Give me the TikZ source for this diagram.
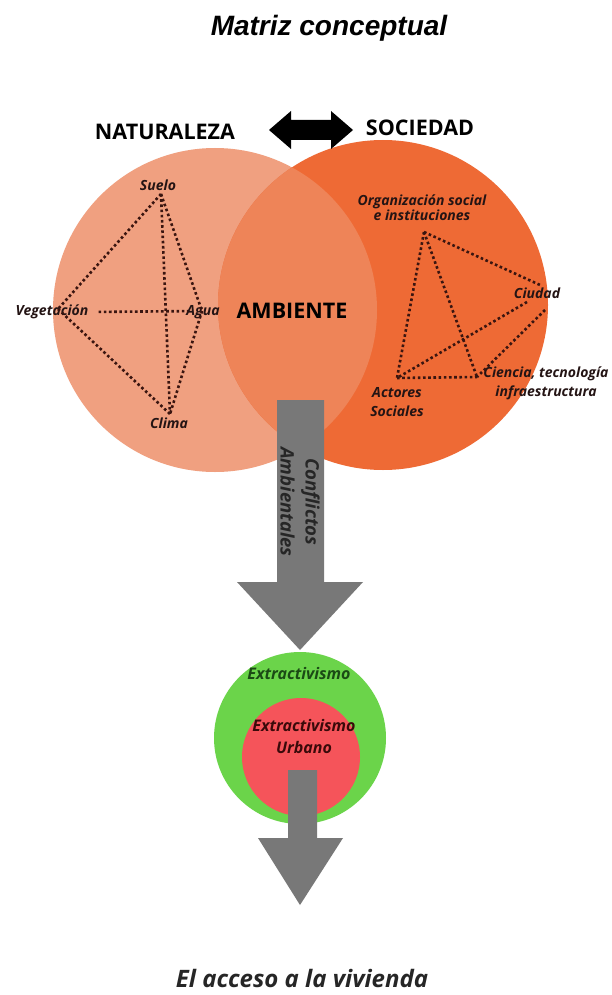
\documentclass[tikz,border=0pt]{standalone}
\usepackage{fontspec}
\setmainfont{Open Sans}
\newfontfamily\titlefont{Liberation Sans}
\definecolor{natcol}{HTML}{F0A080}
\definecolor{soccol}{HTML}{EE6A35}
\definecolor{ambcol}{HTML}{EE8458}
\definecolor{extcol}{HTML}{6BD44A}
\definecolor{urbcol}{HTML}{F5545A}
\definecolor{arrowgray}{HTML}{787878}
\definecolor{linkbrown}{HTML}{3A1510}
\definecolor{labeltext}{HTML}{241414}
\definecolor{extgreen}{HTML}{1B4A15}
\definecolor{urbtext}{HTML}{3A0A0A}
\begin{document}
\begin{tikzpicture}[x=1pt,y=-1pt,
    lbl/.style={font=\bfseries\itshape\fontsize{14}{19}\selectfont, text=labeltext, align=center, inner sep=0pt},
    big/.style={font=\bfseries\fontsize{21.5}{24}\selectfont, text=black, inner sep=0pt},
    link/.style={draw=linkbrown, line width=2.6pt, dash pattern=on 2.6pt off 2.6pt}]
  \useasboundingbox (0,0) rectangle (612,995);
  \fill[white] (0,0) rectangle (612,995);
  % the two circles and their overlap
  \def\natcircle{(215,310) circle (162pt)}
  \def\soccircle{(383,305) circle (165pt)}
  \fill[natcol] \natcircle;
  \fill[soccol] \soccircle;
  \begin{scope}
    \clip \natcircle;
    \fill[ambcol] \soccircle;
  \end{scope}
  \node[font=\titlefont\bfseries\itshape\fontsize{28}{32}\selectfont] (title) at (329,28) {Matriz conceptual};
  \node[big] (naturaleza) at (165,132) {NATURALEZA};
  \node[big] (sociedad) at (420,128) {SOCIEDAD};
  \node[big] (ambiente) at (292,311) {AMBIENTE};
  % double arrow
  \fill[black] (269,130) -- (291,111) -- (291,120) -- (331,120) -- (331,111) -- (353,130)
    -- (331,149) -- (331,140) -- (291,140) -- (291,149) -- cycle;
  % naturaleza
  \coordinate (s) at (161,194);
  \coordinate (v) at (58,309);
  \coordinate (a) at (202,311);
  \coordinate (c) at (170,414);
  \node[lbl] (suelo) at (158,185) {Suelo};
  \node[lbl] (veg) at (52,312) {Vegetación};
  \node[lbl] (agua) at (203,312) {Agua};
  \node[lbl] (clima) at (169,423) {Clima};
  \draw[link] (s) -- (v);
  \draw[link] (s) -- (a);
  \draw[link] (s) -- (c);
  \draw[link, shorten <=10pt, shorten >=14pt] (veg.east) -- (a);
  \draw[link] (v) -- (c);
  \draw[link] (a) -- (c);
  % sociedad
  \coordinate (o) at (424,232);
  \coordinate (ac) at (397,378);
  \coordinate (ce) at (477,377);
  \coordinate (ci1) at (540,285);
  \coordinate (ci2) at (527,302);
  \coordinate (ci3) at (545,310);
  \node[lbl, font=\bfseries\itshape\fontsize{14}{15}\selectfont] (org) at (422,208) {Organización social\\e instituciones};
  \node[lbl] (ciudad) at (537,293) {Ciudad};
  \node[lbl] (ciencia) at (546,383) {Ciencia, tecnología\\infraestructura};
  \node[lbl] (actores) at (397,402) {Actores\\Sociales};
  \draw[link] (o) -- (ac);
  \draw[link] (o) -- (ce);
  \draw[link] (o) -- (ci1);
  \draw[link] (ci2) -- (ac);
  \draw[link] (ci3) -- (ce);
  \draw[link] (ac) -- (ce);
  % first gray arrow
  \fill[arrowgray] (277,400) -- (324,400) -- (324,582) -- (363,582) -- (300,650)
    -- (237,582) -- (277,582) -- cycle;
  \node[font=\bfseries\itshape\fontsize{18.5}{25}\selectfont, rotate=-90, align=center, text=black!85] (conflictos) at (300,502) {Conflictos\\Ambientales};
  % extractivismo
  \fill[extcol] (300,738) circle (86pt);
  \fill[urbcol] (301,757) circle (59pt);
  \node[lbl, font=\bfseries\itshape\fontsize{16}{18}\selectfont, text=extgreen] (extr) at (299,673) {Extractivismo};
  \node[lbl, font=\bfseries\itshape\fontsize{16}{22}\selectfont, text=urbtext] (urbano) at (304,736) {Extractivismo\\Urbano};
  % second gray arrow
  \fill[arrowgray] (288,770) -- (317,770) -- (317,838) -- (343,838) -- (300,905)
    -- (258,838) -- (288,838) -- cycle;
  \node[font=\bfseries\itshape\fontsize{24}{28}\selectfont, text=black!85, inner sep=0pt] (vivienda) at (302,978) {El acceso a la vivienda};
\end{tikzpicture}
\end{document}
